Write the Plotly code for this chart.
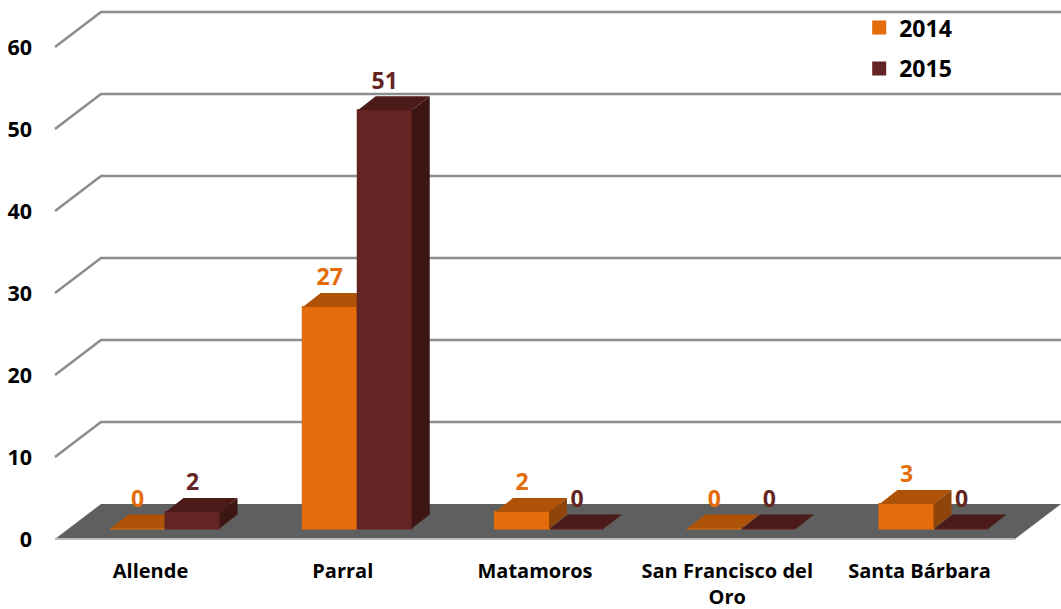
import plotly.graph_objects as go

categories = ["Allende", "Parral", "Matamoros", "San Francisco del<br>Oro", "Santa Bárbara"]
values_2014 = [0, 27, 2, 0, 3]
values_2015 = [2, 51, 0, 0, 0]
y_ticks = [0, 10, 20, 30, 40, 50, 60]

ORANGE, ORANGE_TOP, ORANGE_SIDE = "#E46C0A", "#AD5207", "#8F4507"
MAROON, MAROON_TOP, MAROON_SIDE = "#632523", "#4A1B19", "#3D1614"
FONT = "Open Sans"

# pixel geometry of the projection -> axis units
PX_X, PX_Y = 192.25, 8.2
BAR_W = 54 / PX_X
BAR_DX, BAR_DY = 18 / PX_X, 14 / PX_Y
BASE = 10.5 / PX_Y
WALL_DX, WALL_DY = 46 / PX_X, 35 / PX_Y
SHIFT = 15 / PX_X          # grouped bars' split sits right of the tick
LABEL_GAP = 2 / PX_Y
X0_PX = 150.5
x_rng = [(52 - X0_PX) / PX_X, (1061 - X0_PX) / PX_X]
y_rng = [-4 / PX_Y, 534 / PX_Y]
x_left = (55 - X0_PX) / PX_X
x_floor_right = (1015 - X0_PX) / PX_X


def faces(values, left_offset):
    top_x, top_y, side_x, side_y = [], [], [], []
    for i, v in enumerate(values):
        x0 = i + left_offset
        x1 = x0 + BAR_W
        y0, y1 = BASE, BASE + v
        top_x += [x0, x1, x1 + BAR_DX, x0 + BAR_DX, x0, None]
        top_y += [y1, y1, y1 + BAR_DY, y1 + BAR_DY, y1, None]
        side_x += [x1, x1 + BAR_DX, x1 + BAR_DX, x1, x1, None]
        side_y += [y0, y0 + BAR_DY, y1 + BAR_DY, y1, y0, None]
    return top_x, top_y, side_x, side_y


def poly(xs, ys, color, xa, ya):
    return go.Scatter(x=xs, y=ys, mode="lines", fill="toself", fillcolor=color,
                      line=dict(width=0, color=color), showlegend=False,
                      hoverinfo="skip", xaxis=xa, yaxis=ya)


idx = list(range(len(categories)))
fig = go.Figure()

off14, off15 = SHIFT - BAR_W - 1 / PX_X, SHIFT
fig.add_trace(go.Bar(x=idx, y=values_2014, base=BASE, width=BAR_W, offset=off14, name="2014",
                     marker=dict(color=ORANGE, line=dict(width=2, color=ORANGE)), legendgroup="a",
                     xaxis="x", yaxis="y"))
t = faces(values_2014, off14)
fig.add_trace(poly(t[0], t[1], ORANGE_TOP, "x", "y"))
fig.add_trace(poly(t[2], t[3], ORANGE_SIDE, "x", "y"))

fig.add_trace(go.Bar(x=idx, y=values_2015, base=BASE, width=BAR_W, offset=off15, name="2015",
                     marker=dict(color=MAROON, line=dict(width=2, color=MAROON)), legendgroup="b",
                     xaxis="x2", yaxis="y2"))
t = faces(values_2015, off15)
fig.add_trace(poly(t[0], t[1], MAROON_TOP, "x2", "y2"))
fig.add_trace(poly(t[2], t[3], MAROON_SIDE, "x2", "y2"))

for vals, off, col in [(values_2014, off14, ORANGE), (values_2015, off15, MAROON)]:
    fig.add_trace(go.Scatter(
        x=[i + off + BAR_W / 2 for i in idx],
        y=[BASE + v + BAR_DY + LABEL_GAP for v in vals],
        text=[str(v) for v in vals], mode="text", textposition="top center",
        textfont=dict(family=FONT, size=23, color=col, weight="bold"),
        showlegend=False, hoverinfo="skip", xaxis="x2", yaxis="y2"))

shapes = []
for v in y_ticks[1:]:
    shapes.append(dict(type="path", layer="below", xref="x", yref="y",
                       path=f"M{x_left},{v} L{x_left + WALL_DX},{v + WALL_DY} L{x_rng[1]},{v + WALL_DY}",
                       line=dict(color="#8C8C8C", width=2.5)))
shapes.append(dict(type="path", layer="below", xref="x", yref="y",
                   path=(f"M{x_left},0 L{x_left + WALL_DX},{WALL_DY} L{x_rng[1]},{WALL_DY} "
                         f"L{x_floor_right},0 Z"),
                   fillcolor="#5F5F5F", line=dict(width=0)))
shapes.append(dict(type="line", layer="below", xref="x", yref="y",
                   x0=x_left, x1=x_floor_right, y0=0, y1=0,
                   line=dict(color="#BDBDBD", width=2)))

fig.update_layout(
    width=1061, height=609, autosize=False,
    margin=dict(l=52, r=0, t=5, b=66),
    paper_bgcolor="white", plot_bgcolor="rgba(0,0,0,0)",
    barmode="overlay", shapes=shapes,
    font=dict(family=FONT, color="black"),
    xaxis=dict(range=x_rng, tickvals=idx, ticktext=categories, showgrid=False, zeroline=False,
               showline=False, ticks="", ticklabelstandoff=14,
               tickfont=dict(family=FONT, size=20, weight="bold", color="black")),
    yaxis=dict(range=y_rng, tickvals=y_ticks, showgrid=False, zeroline=False, showline=False,
               ticks="", ticklabelstandoff=19,
               tickfont=dict(family=FONT, size=21.5, weight="bold", color="black")),
    xaxis2=dict(range=x_rng, overlaying="x", visible=False),
    yaxis2=dict(range=y_rng, overlaying="y", visible=False),
    legend=dict(x=0.80, y=0.998, xanchor="left", yanchor="top", bgcolor="rgba(0,0,0,0)",
                tracegroupgap=8, font=dict(family=FONT, size=23, weight="bold", color="black"),
                itemclick=False, itemdoubleclick=False),
)
fig.write_html("out.html", config=dict(displayModeBar=False),
               post_script="document.body.style.margin='0';document.documentElement.style.overflow='hidden';")
